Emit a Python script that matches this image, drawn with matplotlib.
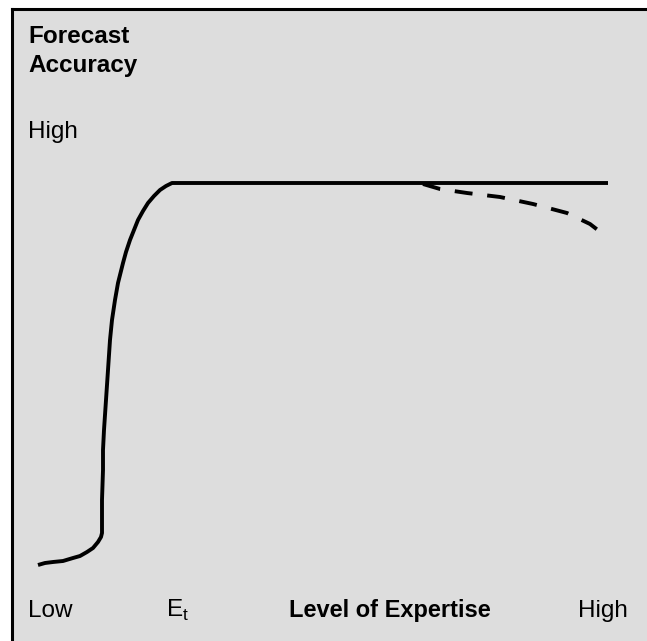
import numpy as np
import matplotlib.pyplot as plt

plt.rcParams['font.family'] = ['Liberation Sans', 'DejaVu Sans']

# curve (x = expertise, y = accuracy; pixel-like units, y grows downward)
solid_x = [38, 45, 53, 63, 73, 80, 87, 93, 98, 101, 102, 102, 102, 103, 103, 104, 106, 108, 110,
           112, 115, 118, 123, 126, 130, 134, 138, 143, 148, 154, 160, 166, 172, 250, 608]
solid_y = [565, 563, 562, 561, 558, 556, 552, 548, 542, 537, 533, 517, 500, 470, 450, 430, 400, 370, 340,
           320, 300, 283, 263, 252, 240, 230, 220, 211, 203, 196, 190, 186, 183, 183, 183]

dash_x = [423, 440, 467, 500, 533, 567, 590, 603]
dash_y = [184, 189, 193, 197, 204, 213, 224, 234]

y_labels = ["Forecast\nAccuracy", "High"]
x_labels = ["Low", "Level of Expertise", "High"]

W, H = 647, 641
fig = plt.figure(figsize=(W / 100, H / 100), dpi=100)
fig.patch.set_facecolor("white")

x0, y0 = 12, 9
ax = fig.add_axes([x0 / W, 0, 1 - x0 / W, 1 - y0 / H])
ax.set_facecolor("#dddddd")
ax.set_xlim(x0, W)
ax.set_ylim(H, y0)
ax.set_xticks([])
ax.set_yticks([])
for side in ["right", "bottom"]:
    ax.spines[side].set_visible(False)
for side in ["left", "top"]:
    ax.spines[side].set_linewidth(2.2)
    ax.spines[side].set_color("black")

ax.plot(solid_x, solid_y, color="black", lw=2.8, solid_capstyle="butt", solid_joinstyle="round")
ax.plot(dash_x, dash_y, color="black", lw=2.8, linestyle=(0, (4.6, 3.8)), dash_capstyle="butt")

fs = 17.5
top, bottom = y_labels[0].split("\n")
ax.text(28, 43, top, fontsize=fs, fontweight="bold", va="baseline", ha="left")
ax.text(28, 72, bottom, fontsize=fs, fontweight="bold", va="baseline", ha="left")
ax.text(28, 138, y_labels[1], fontsize=fs, va="baseline", ha="left")

ax.text(28, 617, x_labels[0], fontsize=fs, va="baseline", ha="left")
ax.text(166, 617, r"E$_\mathregular{t}$", fontsize=fs, va="baseline", ha="left")
ax.text(289, 617, x_labels[1], fontsize=17, fontweight="bold", va="baseline", ha="left")
ax.text(578, 617, x_labels[2], fontsize=fs, va="baseline", ha="left")

fig.savefig("out.png", dpi=100, facecolor="white")
